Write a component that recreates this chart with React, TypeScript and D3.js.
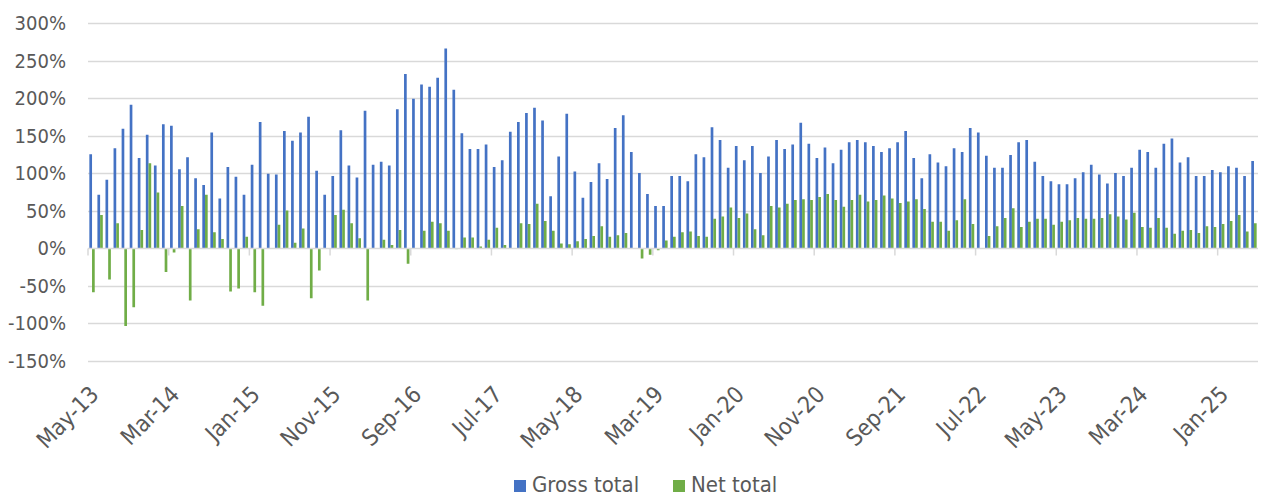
import React, { useEffect, useRef } from 'react';
import * as d3 from 'd3';

const MONTHS = ['Jan', 'Feb', 'Mar', 'Apr', 'May', 'Jun', 'Jul', 'Aug', 'Sep', 'Oct', 'Nov', 'Dec'];

// May-13 .. May-25, one entry per month
const categories: string[] = [];
for (let k = 0; k < 145; k++) {
  const m = (4 + k) % 12;
  const yr = 13 + Math.floor((4 + k) / 12);
  categories.push(`${MONTHS[m]}-${yr}`);
}

const grossTotal = [
  125, 71, 91, 133, 159, 191, 120, 151, 110, 165,
  163, 105, 121, 93, 84, 154, 66, 108, 95, 71,
  111, 168, 99, 98, 156, 143, 154, 175, 103, 71,
  96, 157, 110, 94, 183, 111, 115, 110, 185, 232,
  199, 218, 215, 227, 266, 211, 153, 132, 132, 138,
  108, 117, 155, 168, 180, 187, 170, 69, 122, 179,
  102, 67, 88, 113, 92, 160, 177, 128, 100, 72,
  56, 56, 96, 96, 89, 125, 121, 161, 144, 107,
  136, 117, 136, 100, 122, 144, 132, 138, 167, 139,
  120, 134, 113, 131, 141, 144, 141, 136, 128, 133,
  141, 156, 120, 93, 125, 114, 109, 133, 128, 160,
  154, 123, 107, 107, 124, 141, 144, 115, 96, 89,
  85, 85, 93, 101, 111, 98, 86, 100, 96, 107,
  131, 128, 107, 139, 146, 114, 121, 96, 96, 104,
  101, 109, 107, 96, 116,
];

const netTotal = [
  -59, 44, -42, 33, -104, -79, 24, 113, 74, -32,
  -6, 56, -70, 25, 71, 21, 12, -58, -54, 15,
  -59, -77, 0, 31, 50, 7, 26, -67, -30, 0,
  44, 51, 33, 13, -70, 0, 11, 4, 24, -21,
  0, 23, 35, 33, 23, -1.5, 14, 14, 2, 11,
  27, 4, -1, 33, 32, 59, 36, 23, 6, 5,
  9, 12, 16, 29, 15, 17, 20, 0, -14, -9,
  -3, 10, 15, 21, 22, 16, 15, 39, 42, 54,
  40, 46, 25, 17, 56, 54, 59, 64, 65, 64,
  68, 72, 64, 55, 64, 71, 62, 64, 70, 66,
  60, 62, 65, 52, 35, 35, 23, 37, 65, 32,
  0, 16, 29, 40, 53, 28, 35, 39, 39, 31,
  35, 37, 40, 39, 39, 40, 45, 42, 38, 47,
  28, 27, 40, 27, 19, 23, 24, 20, 29, 28,
  32, 36, 44, 22, 33,
];

const yTicks = [-150, -100, -50, 0, 50, 100, 150, 200, 250, 300];
const seriesNames = ['Gross total', 'Net total'];
const seriesColors = ['#4472C4', '#70AD47'];

const W = 1266;
const H = 498;
const FONT = '"DejaVu Sans Condensed", "DejaVu Sans", sans-serif';

export default function App() {
  const svgRef = useRef<SVGSVGElement>(null);

  useEffect(() => {
    if (!svgRef.current) return;
    const svg = d3.select(svgRef.current);
    svg.selectAll('*').remove();

    const x = d3.scaleBand<string>().domain(categories).range([88, 1258]).padding(0);
    const xSub = d3.scaleBand<string>()
      .domain(seriesNames)
      .range([0, x.bandwidth()])
      .paddingInner(0)
      .paddingOuter(0.5);
    const y = d3.scaleLinear().domain([-150, 300]).range([360.5, 23]);

    // gridlines
    svg.append('g')
      .selectAll('line')
      .data(yTicks.filter(t => t !== 0))
      .join('line')
      .attr('x1', 88).attr('x2', 1258)
      .attr('y1', d => Math.round(y(d)) + 0.5)
      .attr('y2', d => Math.round(y(d)) + 0.5)
      .attr('stroke', '#d9d9d9')
      .attr('stroke-width', 1.5);

    // y labels
    svg.append('g')
      .selectAll('text')
      .data(yTicks)
      .join('text')
      .attr('x', 66)
      .attr('y', d => y(d) + 7)
      .attr('text-anchor', 'end')
      .attr('font-family', FONT)
      .attr('font-size', 20)
      .attr('fill', '#595959')
      .text(d => `${d}%`);

    // bars
    const series = [grossTotal, netTotal];
    series.forEach((vals, si) => {
      svg.append('g')
        .selectAll('rect')
        .data(vals)
        .join('rect')
        .attr('x', (_, i) => (x(categories[i]) as number) + (xSub(seriesNames[si]) as number))
        .attr('width', xSub.bandwidth())
        .attr('y', d => y(Math.max(0, d)))
        .attr('height', d => Math.abs(y(d) - y(0)))
        .attr('fill', seriesColors[si]);
    });

    // zero axis line + ticks every 10 categories
    const y0 = Math.round(y(0)) + 0.5;
    svg.append('line')
      .attr('x1', 88).attr('x2', 1258)
      .attr('y1', y0).attr('y2', y0)
      .attr('stroke', '#d9d9d9')
      .attr('stroke-width', 1.5);

    const tickIdx = d3.range(0, categories.length + 1, 10);
    svg.append('g')
      .selectAll('line')
      .data(tickIdx)
      .join('line')
      .attr('x1', i => 88 + i * x.step())
      .attr('x2', i => 88 + i * x.step())
      .attr('y1', y0)
      .attr('y2', y0 + 7)
      .attr('stroke', '#d9d9d9')
      .attr('stroke-width', 1.5);

    // x labels
    const labelIdx = d3.range(0, categories.length, 10);
    svg.append('g')
      .selectAll('text')
      .data(labelIdx)
      .join('text')
      .attr('transform', i => {
        const cx = (x(categories[i]) as number) + x.bandwidth() / 2;
        return `translate(${cx + 8},${396}) rotate(-45)`;
      })
      .attr('text-anchor', 'end')
      .attr('font-family', FONT)
      .attr('font-size', 23)
      .attr('fill', '#595959')
      .text(i => categories[i]);

    // legend
    const legendX = [514, 673];
    seriesNames.forEach((name, si) => {
      const g = svg.append('g').attr('transform', `translate(${legendX[si]},0)`);
      g.append('rect')
        .attr('x', 0).attr('y', 480)
        .attr('width', 12).attr('height', 12)
        .attr('fill', seriesColors[si]);
      g.append('text')
        .attr('x', 18).attr('y', 492)
        .attr('font-family', FONT)
        .attr('font-size', 22)
        .attr('fill', '#595959')
        .text(name);
    });
  }, []);

  return (
    <svg
      ref={svgRef}
      width={W}
      height={H}
      style={{ position: 'absolute', left: 0, top: 0, background: '#fff' }}
    />
  );
}
